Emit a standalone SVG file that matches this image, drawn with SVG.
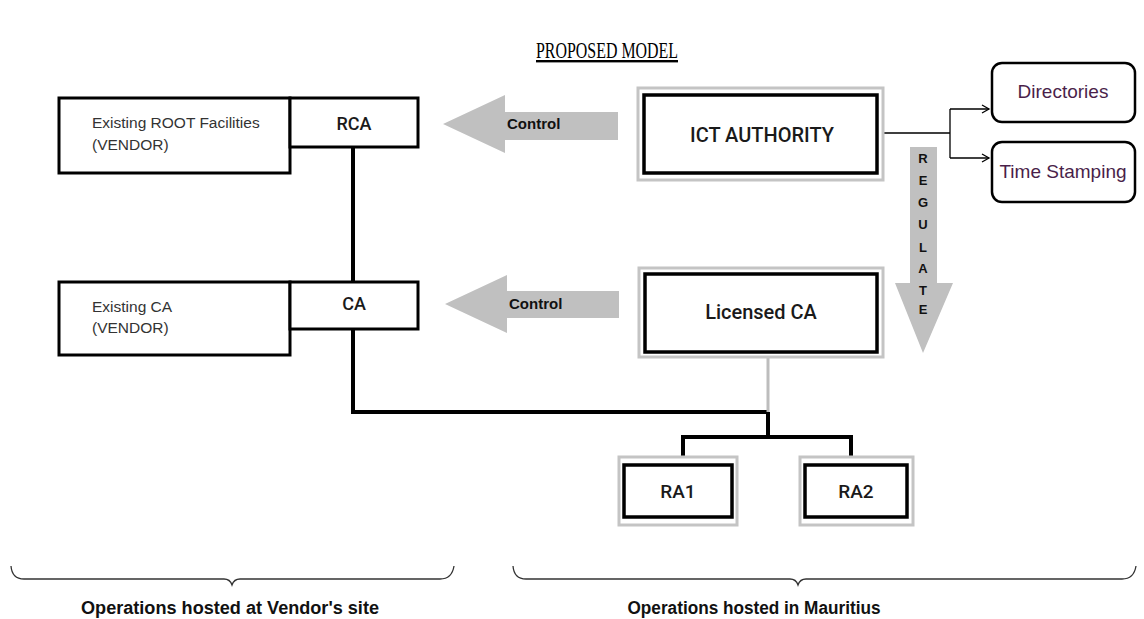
<svg xmlns="http://www.w3.org/2000/svg" width="1144" height="619" viewBox="0 0 1144 619">
<style>
.t{font-family:"Liberation Sans",Arial,sans-serif}
.box{fill:#fff;stroke:#000;stroke-width:3}
.outer{fill:#fff;stroke:#c4c4c4;stroke-width:3}
.inner{fill:none;stroke:#000;stroke-width:3.5}
.wire{fill:none;stroke:#000;stroke-width:4}
.thin{fill:none;stroke:#000;stroke-width:1.3}
.gray{fill:#c0c0c0}
.rbox{fill:#fff;stroke:#000;stroke-width:2.5}
.brace{fill:none;stroke:#333;stroke-width:1.3}
.sub{font-family:"Liberation Sans",Arial,sans-serif;font-size:15.5px;fill:#333}
.hd{font-family:Roboto,"Liberation Sans",Arial,sans-serif;font-weight:500;fill:#1a1a1a;text-anchor:middle}
.ctl{font-family:"Liberation Sans",Arial,sans-serif;font-size:15px;font-weight:bold;fill:#111}
.svc{font-family:"Liberation Sans",Arial,sans-serif;font-size:19px;fill:#4a1f4a;text-anchor:middle}
.cap{font-family:"Liberation Sans",Arial,sans-serif;font-size:18px;font-weight:bold;fill:#111;text-anchor:middle}
</style>
<defs>
<marker id="open" markerWidth="10" markerHeight="10" refX="8" refY="5" orient="auto" markerUnits="userSpaceOnUse">
<path d="M1,1 L8,5 L1,9" fill="none" stroke="#000" stroke-width="1.3"/>
</marker>
</defs>
<rect width="1144" height="619" fill="#fff"/>
<text x="607" y="58" text-anchor="middle" font-family="Liberation Serif,Times New Roman,serif" font-size="24" text-decoration="underline" fill="#000" textLength="142" lengthAdjust="spacingAndGlyphs">PROPOSED MODEL</text>

<g id="connectors">
<path class="wire" d="M353,147 V282"/>
<path class="wire" d="M353,329 V412 H768"/>
<path d="M768,357 V412" fill="none" stroke="#bdbdbd" stroke-width="3"/>
<path class="wire" d="M768,412 V437 M683,465 V437 H851 V465"/>
<path class="thin" d="M884,133 H950 M950,109 V158"/>
<path class="thin" d="M950,109 H989" marker-end="url(#open)"/>
<path class="thin" d="M950,158 H989" marker-end="url(#open)"/>
</g>

<g id="control1">
<polygon class="gray" points="443,124 505,95 505,112 618,112 618,140 505,140 505,153"/>
<text x="507" y="129" class="ctl">Control</text>
</g>
<g id="control2">
<polygon class="gray" points="445,304 507,275 507,291 619,291 619,318 507,318 507,333"/>
<text x="509" y="309" class="ctl">Control</text>
</g>
<g id="regulate">
<polygon class="gray" points="910,147 937,147 937,283 953,283 923,353 895,283 910,283"/>
<g class="t" font-size="13" font-weight="bold" fill="#111" text-anchor="middle">
<text x="923" y="163">R</text>
<text x="923" y="185">E</text>
<text x="923" y="207">G</text>
<text x="923" y="229">U</text>
<text x="923" y="252">L</text>
<text x="923" y="273">A</text>
<text x="923" y="295">T</text>
<text x="923" y="314">E</text>
</g>
</g>

<g id="root-facilities">
<rect class="box" x="59" y="98" width="231" height="75"/>
<text x="92" y="128" class="sub">Existing ROOT Facilities</text>
<text x="92" y="150" class="sub">(VENDOR)</text>
</g>
<g id="rca">
<rect class="box" x="290" y="98" width="128" height="49"/>
<text x="354" y="130" class="hd" font-size="18">RCA</text>
</g>
<g id="existing-ca">
<rect class="box" x="59" y="282" width="231" height="73"/>
<text x="92" y="312" class="sub">Existing CA</text>
<text x="92" y="333" class="sub">(VENDOR)</text>
</g>
<g id="ca">
<rect class="box" x="290" y="282" width="128" height="47"/>
<text x="354" y="310" class="hd" font-size="18">CA</text>
</g>

<g id="ict-authority">
<rect class="outer" x="638" y="88" width="245" height="92"/>
<rect class="inner" x="644" y="95" width="233" height="78"/>
<text x="762" y="142" class="hd" font-size="20">ICT AUTHORITY</text>
</g>
<g id="licensed-ca">
<rect class="outer" x="639" y="268" width="244" height="89"/>
<rect class="inner" x="645" y="274" width="232" height="78"/>
<text x="761" y="319" class="hd" font-size="20">Licensed CA</text>
</g>

<g id="directories">
<rect class="rbox" x="992" y="63" width="143" height="59" rx="10"/>
<text x="1063" y="98" class="svc">Directories</text>
</g>
<g id="time-stamping">
<rect class="rbox" x="992" y="142" width="143" height="60" rx="10"/>
<text x="1063" y="178" class="svc">Time Stamping</text>
</g>

<g id="ra1">
<rect class="outer" x="619" y="457" width="118" height="68"/>
<rect class="inner" x="624" y="465" width="108" height="52"/>
<text x="678" y="498" class="hd" font-size="19">RA1</text>
</g>
<g id="ra2">
<rect class="outer" x="800" y="457" width="113" height="68"/>
<rect class="inner" x="805" y="465" width="102" height="52"/>
<text x="856" y="498" class="hd" font-size="19">RA2</text>
</g>

<g id="vendor-site">
<path class="brace" d="M11,566 Q12,579 24,579 H224 Q230,579 232,585 Q234,579 240,579 H440 Q452,579 454,566"/>
<text x="230" y="614" class="cap" textLength="298" lengthAdjust="spacingAndGlyphs">Operations hosted at Vendor's site</text>
</g>
<g id="mauritius">
<path class="brace" d="M513,566 Q514,579 526,579 H790 Q796,579 798,585 Q800,579 806,579 H1122 Q1134,579 1136,566"/>
<text x="754" y="614" class="cap" textLength="253" lengthAdjust="spacingAndGlyphs">Operations hosted in Mauritius</text>
</g>
</svg>
